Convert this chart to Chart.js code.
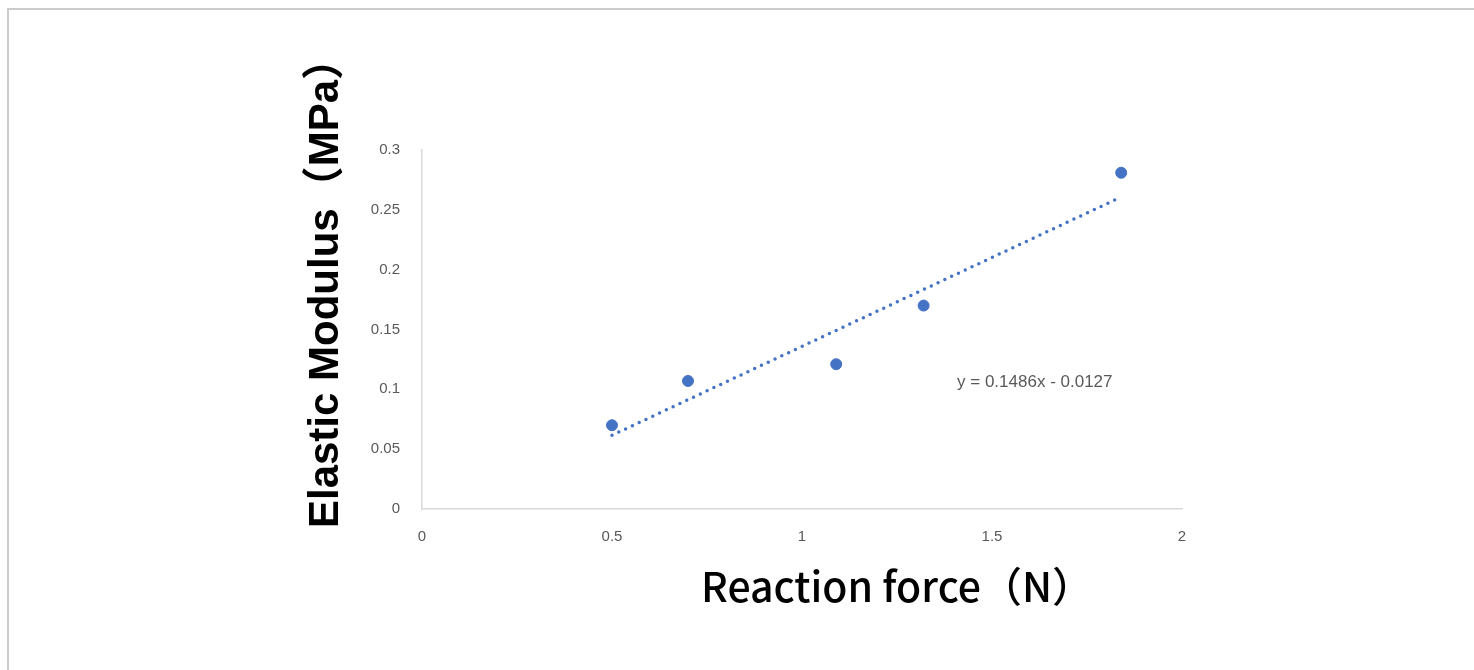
<!DOCTYPE html>
<html>
<head>
<meta charset="utf-8">
<script src="https://cdn.jsdelivr.net/npm/chart.js@4"></script>
<style>
  html, body { margin: 0; padding: 0; background: #fff; overflow: hidden; }
  #frame { position: absolute; left: 7px; top: 8px; width: 1500px; height: 700px;
           border-left: 2px solid #cccccc; border-top: 2px solid #cccccc; }
  #wrap { position: absolute; left: 0; top: 0; width: 1474px; height: 670px; }
</style>
</head>
<body>
<div id="frame"></div>
<div id="wrap"><canvas id="c"></canvas></div>
<script>
// measured points
const reactionForce = [0.5, 0.7, 1.09, 1.32, 1.84];
const elasticModulus = [0.070, 0.107, 0.121, 0.170, 0.281];

// linear trendline as printed on the chart
const trendSlope = 0.1486;
const trendIntercept = -0.0127;
const trendLabel = 'y = 0.1486x - 0.0127';

const xTitle = 'Reaction force\uFF08N\uFF09';
const yTitle = 'Elastic Modulus\uFF08MPa\uFF09';

const blue = '#4472C4';
const tickGray = '#595959';

const pts = reactionForce.map((x, i) => ({ x: x, y: elasticModulus[i] }));
const xFirst = reactionForce[0], xLast = reactionForce[reactionForce.length - 1];
const trend = [xFirst, xLast].map(x => ({ x: x, y: trendSlope * x + trendIntercept }));

// axis titles + equation label, drawn where Excel put them
const extraText = {
  id: 'extraText',
  afterDraw(chart) {
    const ctx = chart.ctx, xs = chart.scales.x, ys = chart.scales.y;
    ctx.save();
    ctx.fillStyle = '#000';
    ctx.textBaseline = 'middle';
    ctx.textAlign = 'center';

    ctx.font = 'bold 42px "Liberation Sans", "Noto Sans CJK JP", sans-serif';
    ctx.translate(326, 283);
    ctx.rotate(-Math.PI / 2);
    ctx.fillText(yTitle, 0, 0);
    ctx.setTransform(1, 0, 0, 1, 0, 0);

    ctx.font = '500 41px "Noto Sans CJK JP", "Liberation Sans", sans-serif';
    ctx.fillText(xTitle, 897, 586);

    ctx.fillStyle = tickGray;
    ctx.textAlign = 'left';
    ctx.font = '17px "Liberation Sans", sans-serif';
    ctx.fillText(trendLabel, xs.getPixelForValue(1.408), ys.getPixelForValue(0.106));
    ctx.restore();
  }
};

new Chart(document.getElementById('c'), {
  type: 'scatter',
  data: {
    datasets: [
      { data: pts, backgroundColor: blue, borderColor: blue, pointRadius: 5.5, pointHoverRadius: 5.5, order: 1 },
      { type: 'line', data: trend, borderColor: blue, borderWidth: 3.5, borderDash: [0, 7.5],
        borderCapStyle: 'round', pointRadius: 0, fill: false, order: 2 }
    ]
  },
  options: {
    responsive: true, maintainAspectRatio: false, animation: false,
    layout: { padding: { left: 0, top: 150, right: 292, bottom: 0 } },
    plugins: { legend: { display: false }, tooltip: { enabled: false } },
    scales: {
      x: {
        type: 'linear', min: 0, max: 2,
        grid: { display: false, drawTicks: false },
        border: { display: true, color: '#d9d9d9', width: 1.5 },
        ticks: { stepSize: 0.5, color: tickGray, padding: 19, font: { family: 'Liberation Sans', size: 15 },
                 callback: v => String(+v.toFixed(2)) },
        afterFit: s => { s.height = 161; }
      },
      y: {
        type: 'linear', min: 0, max: 0.3,
        grid: { display: false, drawTicks: false },
        border: { display: true, color: '#d9d9d9', width: 1.5 },
        ticks: { stepSize: 0.05, color: tickGray, padding: 22, font: { family: 'Liberation Sans', size: 15 },
                 callback: v => String(+v.toFixed(2)) },
        afterFit: s => { s.width = 422; }
      }
    }
  },
  plugins: [extraText]
});
</script>
</body>
</html>
